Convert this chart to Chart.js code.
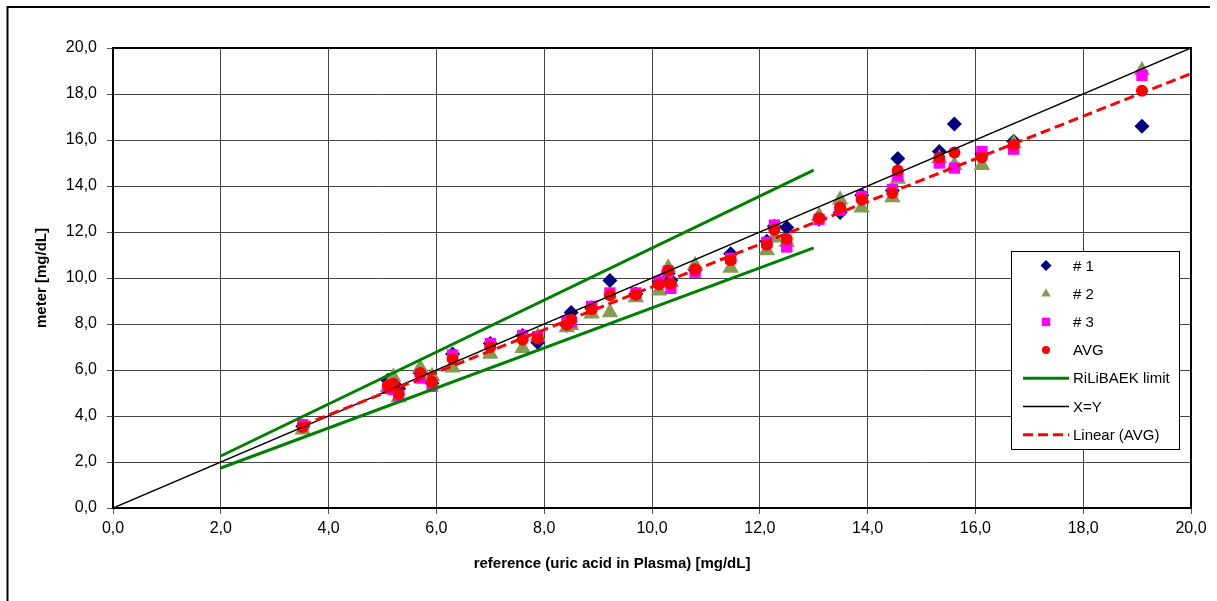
<!DOCTYPE html>
<html lang="de">
<head>
<meta charset="UTF-8">
<title>meter vs reference</title>
<script src="https://cdn.jsdelivr.net/npm/chart.js@4.4.1/dist/chart.umd.min.js"></script>
<style>
  body { margin: 0; background: #fff; }
</style>
</head>
<body>
<canvas id="chart" width="1217" height="601"></canvas>
<script>
// reference values (uric acid in plasma) and the three meter readings + average
const refX   = [3.52, 5.10, 5.20, 5.30, 5.70, 5.92, 6.30, 7.00, 7.60, 7.88, 8.42, 8.50, 8.88, 9.22, 9.70, 10.13, 10.30, 10.35, 10.80, 11.46, 12.13, 12.27, 12.50, 13.10, 13.49, 13.89, 14.46, 14.56, 15.33, 15.61, 16.12, 16.71, 19.09];
const meter1 = [3.55, 5.55, 5.35, 5.20, 5.86, 5.42, 6.70, 7.15, 7.50, 7.20, 7.95, 8.50, 8.70, 9.89, 9.30, 9.85, 10.20, 9.90, 10.35, 11.05, 11.60, 12.25, 12.20, 12.55, 12.85, 13.60, 13.80, 15.20, 15.50, 16.70, 15.40, 15.95, 16.60];
const meter2 = [3.40, 5.25, 5.70, 4.80, 6.10, 5.73, 6.10, 6.70, 6.95, 7.45, 7.85, 7.95, 8.45, 8.50, 9.15, 9.45, 10.45, 9.80, 10.55, 10.43, 11.20, 11.75, 11.55, 12.70, 13.40, 13.05, 13.50, 14.30, 15.20, 14.90, 14.90, 15.85, 19.02];
const meter3 = [3.62, 5.20, 5.15, 4.90, 5.65, 5.29, 6.65, 7.15, 7.50, 7.45, 8.10, 8.10, 8.77, 9.35, 9.35, 9.85, 10.30, 9.55, 10.25, 10.85, 11.55, 12.30, 11.35, 12.55, 12.95, 13.55, 13.85, 14.45, 15.00, 14.78, 15.50, 15.60, 18.81];
const avg    = [3.52, 5.33, 5.40, 4.97, 5.87, 5.48, 6.48, 7.00, 7.32, 7.37, 7.97, 8.18, 8.64, 9.25, 9.27, 9.72, 10.32, 9.75, 10.38, 10.77, 11.45, 12.10, 11.70, 12.60, 13.07, 13.41, 13.70, 14.67, 15.23, 15.46, 15.25, 15.78, 18.14];

// RiLiBAEK limit lines
const limitX     = [2, 13];
const limitUpper = [2.26, 14.69];
const limitLower = [1.74, 11.31];
// X=Y line
const identityX = [0, 20];
const identityY = [0, 20];
// Excel linear trendline of AVG
const trendX = [3.5, 20];
const trendY = [3.58, 18.89];

const FONT = "'Liberation Sans', Arial, sans-serif";

function pts(xs, ys) {
  return xs.map((x, i) => ({ x: x, y: ys[i] }));
}
function fmt(v) {
  return v.toFixed(1).replace('.', ',');
}

const frame = {
  id: 'frame',
  beforeDraw(chart) {
    const ctx = chart.ctx;
    ctx.save();
    ctx.fillStyle = '#fff';
    ctx.fillRect(0, 0, chart.width, chart.height);
    ctx.strokeStyle = '#000';
    ctx.lineWidth = 2;
    ctx.beginPath();
    ctx.moveTo(7.5, 601);
    ctx.lineTo(7.5, 7);
    ctx.lineTo(1210, 7);
    ctx.stroke();
    ctx.restore();
  },
  beforeDatasetsDraw(chart) {
    const a = chart.chartArea;
    const ctx = chart.ctx;
    ctx.save();
    ctx.strokeStyle = '#000';
    ctx.lineWidth = 2;
    ctx.strokeRect(a.left, a.top, a.right - a.left, a.bottom - a.top);
    ctx.restore();
  },
  afterDraw(chart) {
    const ctx = chart.ctx;
    ctx.save();
    ctx.fillStyle = '#000';
    ctx.font = 'bold 15px ' + FONT;
    ctx.textAlign = 'center';
    ctx.textBaseline = 'middle';
    ctx.fillText('reference (uric acid in Plasma) [mg/dL]', 612, 564);
    ctx.restore();
  }
};

const insideLegend = {
  id: 'insideLegend',
  afterDraw(chart) {
    const ctx = chart.ctx;
    const items = chart.data.datasets.filter(d => !d.noLegend);
    const bx = 1011.5, by = 251.5, bw = 168, bh = 198;
    ctx.save();
    ctx.fillStyle = '#fff';
    ctx.fillRect(bx, by, bw, bh);
    ctx.strokeStyle = '#000';
    ctx.lineWidth = 1;
    ctx.strokeRect(bx, by, bw, bh);
    items.forEach((d, i) => {
      const cy = 265.5 + i * 28.2;
      if (d.showLine) {
        ctx.save();
        ctx.strokeStyle = d.borderColor;
        ctx.lineWidth = d.borderWidth;
        ctx.setLineDash(d.borderDash || []);
        ctx.beginPath();
        ctx.moveTo(1023, cy);
        ctx.lineTo(1069, cy);
        ctx.stroke();
        ctx.restore();
      } else {
        ctx.fillStyle = d.pointBackgroundColor;
        Chart.helpers.drawPoint(ctx, {
          pointStyle: d.pointStyle,
          radius: d.legendRadius,
          rotation: 0,
          borderWidth: 0
        }, 1046, cy);
      }
      ctx.fillStyle = '#000';
      ctx.font = '15px ' + FONT;
      ctx.textAlign = 'left';
      ctx.textBaseline = 'middle';
      ctx.fillText(d.label, 1073, cy + 1);
    });
    ctx.restore();
  }
};

const ctx = document.getElementById('chart').getContext('2d');

new Chart(ctx, {
  type: 'scatter',
  data: {
    datasets: [
      {
        label: '# 1', data: pts(refX, meter1), order: 8,
        pointStyle: 'rectRot', pointRadius: 7.5, legendRadius: 5.5,
        pointBackgroundColor: '#000080', pointBorderWidth: 0
      },
      {
        label: '# 2', data: pts(refX, meter2), order: 7,
        pointStyle: 'triangle', pointRadius: 9.5, legendRadius: 5.5,
        pointBackgroundColor: '#849B52', pointBorderWidth: 0
      },
      {
        label: '# 3', data: pts(refX, meter3), order: 6,
        pointStyle: 'rect', pointRadius: 8, legendRadius: 6,
        pointBackgroundColor: '#FF00FF', pointBorderWidth: 0
      },
      {
        label: 'AVG', data: pts(refX, avg), order: 5,
        pointStyle: 'circle', pointRadius: 6, legendRadius: 4,
        pointBackgroundColor: '#FF0000', pointBorderWidth: 0
      },
      {
        label: 'RiLiBAEK limit', data: pts(limitX, limitUpper), order: 4,
        showLine: true, borderColor: '#008000', borderWidth: 3, pointRadius: 0
      },
      {
        label: 'RiLiBAEK limit', data: pts(limitX, limitLower), order: 3, noLegend: true,
        showLine: true, borderColor: '#008000', borderWidth: 3, pointRadius: 0
      },
      {
        label: 'X=Y', data: pts(identityX, identityY), order: 2,
        showLine: true, borderColor: '#000', borderWidth: 1.5, pointRadius: 0
      },
      {
        label: 'Linear (AVG)', data: pts(trendX, trendY), order: 1,
        showLine: true, borderColor: '#FF0000', borderWidth: 3, borderDash: [10, 5], pointRadius: 0
      }
    ]
  },
  options: {
    responsive: false,
    animation: false,
    events: [],
    layout: { padding: { top: 48, right: 26, left: 0, bottom: 0 } },
    plugins: {
      legend: { display: false },
      tooltip: { enabled: false }
    },
    scales: {
      x: {
        type: 'linear', min: 0, max: 20,
        afterFit(scale) { scale.height = 93; },
        grid: { color: '#444', lineWidth: 1, tickLength: 6, tickColor: '#555' },
        border: { color: '#000', width: 2 },
        ticks: {
          stepSize: 2, padding: 5, color: '#000', maxRotation: 0,
          font: { family: FONT, size: 16 },
          callback: v => fmt(v)
        }
      },
      y: {
        type: 'linear', min: 0, max: 20,
        afterFit(scale) { scale.width = 113; },
        grid: { color: '#444', lineWidth: 1, tickLength: 6, tickColor: '#555' },
        border: { color: '#000', width: 2 },
        title: {
          display: true, text: 'meter [mg/dL]', color: '#000',
          font: { family: FONT, size: 15, weight: 'bold' },
          padding: { top: 33, bottom: 0 }
        },
        ticks: {
          stepSize: 2, padding: 10, color: '#000',
          font: { family: FONT, size: 16 },
          callback: v => fmt(v)
        }
      }
    }
  },
  plugins: [frame, insideLegend]
});
</script>
</body>
</html>
